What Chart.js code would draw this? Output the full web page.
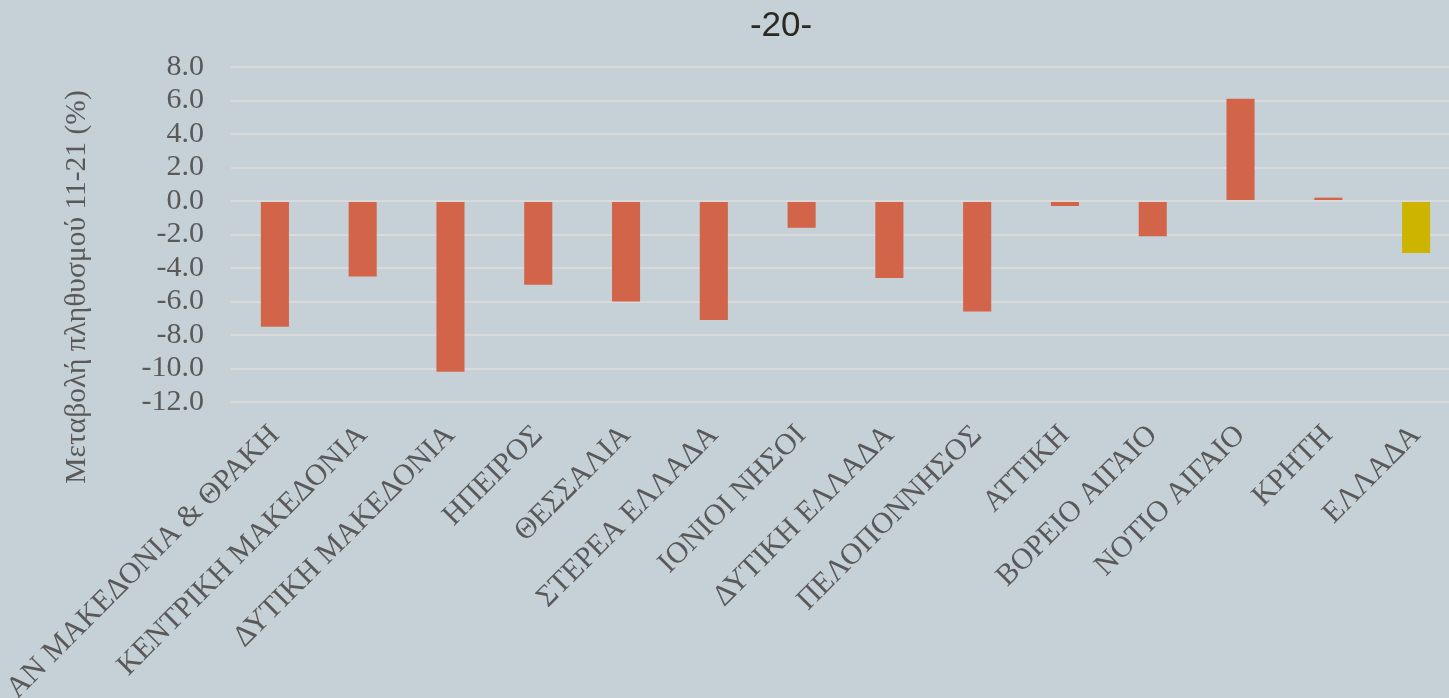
<!DOCTYPE html>
<html>
<head>
<meta charset="utf-8">
<script src="https://cdn.jsdelivr.net/npm/chart.js@4.4.0/dist/chart.umd.min.js"></script>
<style>
  html, body { margin: 0; padding: 0; background: #c6d1d7; overflow: hidden; }
  #wrap { width: 1460px; height: 698px; }
</style>
</head>
<body>
<div id="wrap"><canvas id="popChart"></canvas></div>
<script>
// Μεταβολή πληθυσμού 2011-2021 ανά περιφέρεια (%)
const regions = [
  'ΑΝ ΜΑΚΕΔΟΝΙΑ & ΘΡΑΚΗ', 'ΚΕΝΤΡΙΚΗ ΜΑΚΕΔΟΝΙΑ', 'ΔΥΤΙΚΗ ΜΑΚΕΔΟΝΙΑ', 'ΗΠΕΙΡΟΣ',
  'ΘΕΣΣΑΛΙΑ', 'ΣΤΕΡΕΑ ΕΛΛΑΔΑ', 'ΙΟΝΙΟΙ ΝΗΣΟΙ', 'ΔΥΤΙΚΗ ΕΛΛΑΔΑ', 'ΠΕΛΟΠΟΝΝΗΣΟΣ',
  'ΑΤΤΙΚΗ', 'ΒΟΡΕΙΟ ΑΙΓΑΙΟ', 'ΝΟΤΙΟ ΑΙΓΑΙΟ', 'ΚΡΗΤΗ', 'ΕΛΛΑΔΑ'
];
const changes = [-7.5, -4.5, -10.2, -5.0, -6.0, -7.1, -1.6, -4.6, -6.6, -0.3, -2.1, 6.1, 0.2, -3.1];
const yMin = -12;
const yMax = 8;
const yStep = 2;

const textGrey = '#595959';
const barColors = regions.map(r => r === 'ΕΛΛΑΔΑ' ? '#cdb400' : '#d2644a');

// τίτλος σελίδας και τίτλος άξονα y
const extraText = {
  id: 'extraText',
  afterDraw(chart) {
    const ctx = chart.ctx;
    ctx.save();
    ctx.font = '35px "Liberation Sans"';
    ctx.fillStyle = '#2b2a22';
    ctx.textAlign = 'center';
    ctx.textBaseline = 'middle';
    ctx.fillText('-20-', 781, 26);

    ctx.translate(77, 287);
    ctx.rotate(-Math.PI / 2);
    ctx.font = '29.5px "Liberation Serif"';
    ctx.fillStyle = textGrey;
    ctx.fillText('Μεταβολή πληθυσμού 11-21 (%)', 0, 0);
    ctx.restore();
  }
};

const ctx = document.getElementById('popChart').getContext('2d');

new Chart(ctx, {
  type: 'bar',
  data: {
    labels: regions,
    datasets: [{
      data: changes,
      backgroundColor: barColors,
      borderWidth: 0,
      categoryPercentage: 1,
      barPercentage: 0.32
    }]
  },
  options: {
    responsive: true,
    maintainAspectRatio: false,
    devicePixelRatio: 1,
    animation: false,
    layout: { padding: { top: 67, left: 0, right: 0, bottom: 0 } },
    plugins: {
      legend: { display: false },
      tooltip: { enabled: false }
    },
    scales: {
      x: {
        grid: { display: false },
        border: { display: false },
        ticks: {
          autoSkip: false,
          minRotation: 45,
          maxRotation: 45,
          padding: 8,
          color: textGrey,
          font: { family: '"Liberation Serif"', size: 30 }
        },
        afterFit(scale) {
          scale.height = 296;
          // οι πλάγιες ετικέτες δεν μετακινούν την περιοχή του γραφήματος
          scale.paddingLeft = 0;
          scale.paddingRight = 0;
        }
      },
      y: {
        min: yMin,
        max: yMax,
        grid: { color: '#dadada', lineWidth: 2, drawTicks: false },
        border: { display: false },
        ticks: {
          autoSkip: false,
          stepSize: yStep,
          padding: 27,
          color: textGrey,
          font: { family: '"Liberation Serif"', size: 30 },
          callback: v => v.toFixed(1)
        },
        afterFit(scale) { scale.width = 231; }
      }
    }
  },
  plugins: [extraText]
});
</script>
</body>
</html>
